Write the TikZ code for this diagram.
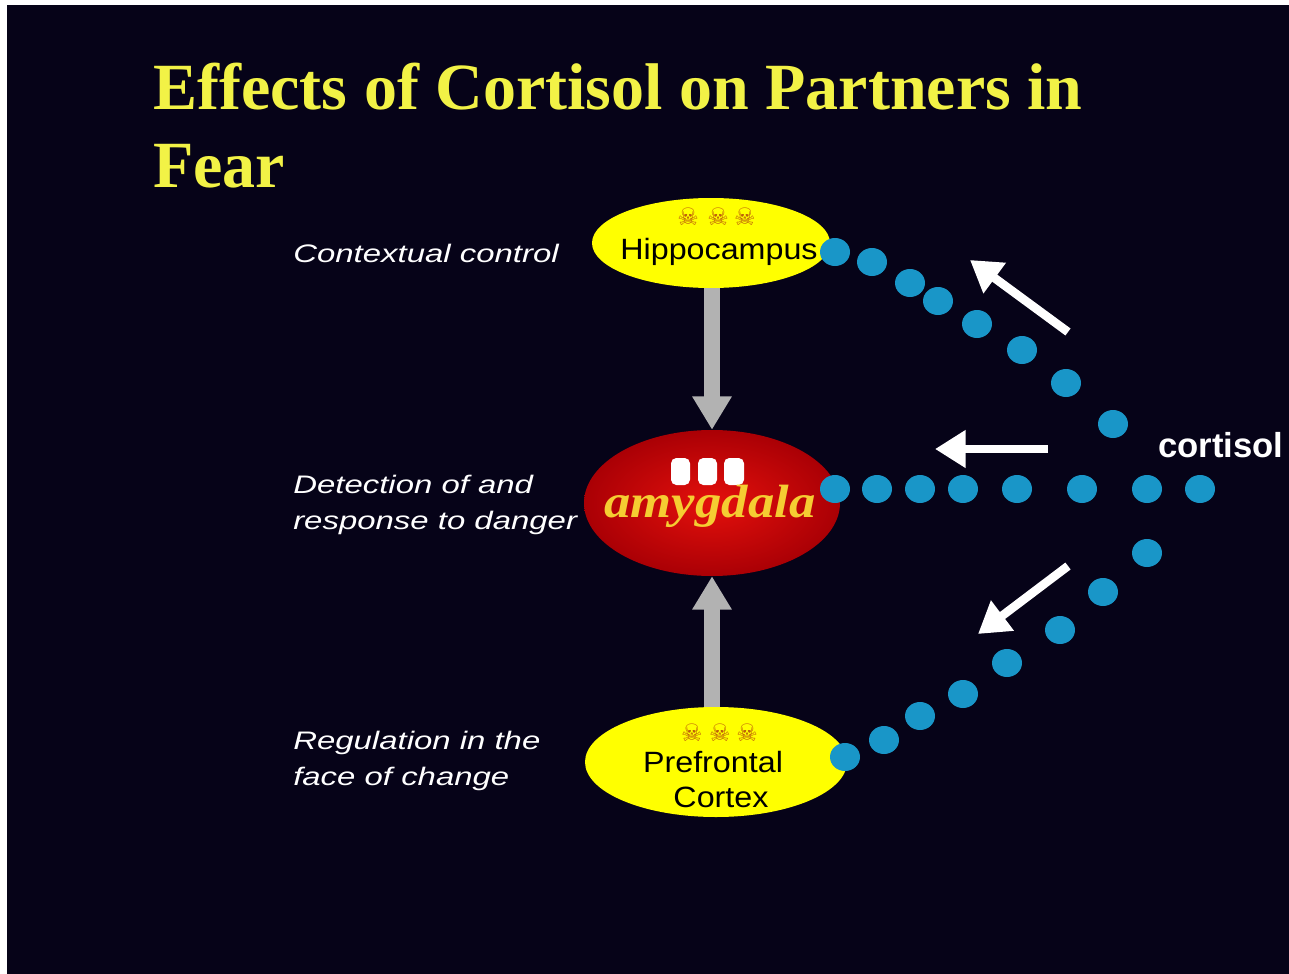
\documentclass[tikz,border=0pt]{standalone}
\usepackage{fontspec}
\setmainfont{Liberation Serif}
\newfontfamily\lsans{Liberation Sans}
\newfontfamily\dejavu{DejaVu Sans}
\usetikzlibrary{shapes.geometric,arrows.meta}
\definecolor{bgdark}{RGB}{6,3,24}
\definecolor{titleyellow}{RGB}{242,242,70}
\definecolor{nodeyellow}{RGB}{255,255,0}
\definecolor{dotblue}{RGB}{25,150,200}
\definecolor{amyred}{RGB}{228,16,12}
\definecolor{amydark}{RGB}{170,0,5}
\definecolor{amytext}{RGB}{245,205,50}
\definecolor{greyarrow}{RGB}{178,178,178}
\definecolor{skullcol}{RGB}{190,95,10}
\newcommand{\wideit}[1]{\scalebox{1.3}[1]{#1}}
\newcommand{\widereg}[1]{\scalebox{1.1}[1]{#1}}
\begin{document}
\begin{tikzpicture}[x=0.75pt,y=-0.75pt,
  region/.style={ellipse, fill=nodeyellow, inner sep=0pt},
  regiontext/.style={anchor=base, inner sep=0pt, text=black, font=\lsans\fontsize{22}{26}\selectfont},
  sidelabel/.style={anchor=base west, inner sep=0pt, text=white, font=\lsans\itshape\fontsize{19}{23}\selectfont},
  skull/.style={text=skullcol, inner sep=0pt, font=\dejavu\bfseries\fontsize{18}{18}\selectfont},
  bluedot/.style={fill=dotblue},
  greyarr/.style={draw=greyarrow, line width=12pt, -{Triangle[width=28pt,length=25pt]}},
  whitearr/.style={draw=white, line width=6.5pt, -{Triangle[width=27pt,length=23pt]}},
  whiteblock/.style={fill=white, rounded corners=4pt}
]
\useasboundingbox (0,0) rectangle (1289,974);
\fill[white] (0,0) rectangle (1289,974);
\fill[bgdark] (7,5) rectangle (1289,974);

% title
\node[anchor=base west, inner sep=0pt, text=titleyellow, font=\bfseries\fontsize{49.5}{52}\selectfont] (title1) at (153,109) {Effects of Cortisol on Partners in};
\node[anchor=base west, inner sep=0pt, text=titleyellow, font=\bfseries\fontsize{49.5}{52}\selectfont] (title2) at (153,187) {Fear};

% regions
\node[region, minimum width=178.5pt, minimum height=67.5pt] (hip) at (711,243) {};
\node[ellipse, inner sep=0pt, minimum width=192pt, minimum height=109.5pt, inner color=amyred, outer color=amydark] (amy) at (712,503) {};
\node[region, minimum width=196.5pt, minimum height=82.5pt] (pfc) at (716,762) {};

\node[regiontext] (hiptext) at (719,259) {\widereg{Hippocampus}};
\node[regiontext] (pfctext1) at (713,772) {\widereg{Prefrontal}};
\node[regiontext] (pfctext2) at (721,807) {\widereg{Cortex}};

\foreach \x/\n in {688/a,718/b,745/c}{\node[skull] (hs\n) at (\x,217) {☠};}
\foreach \x/\n in {692/a,720/b,747/c}{\node[skull] (ps\n) at (\x,733) {☠};}

\fill[whiteblock] (671,458) rectangle (690,485);
\fill[whiteblock] (698,458) rectangle (717,485);
\fill[whiteblock] (724,458) rectangle (744,485);
\node[anchor=base, inner sep=0pt, text=amytext, font=\bfseries\itshape\fontsize{35}{36}\selectfont] (amytext) at (710,517) {\scalebox{1.13}[1]{amygdala}};

% grey arrows
\draw[greyarr] (amy.north |- hip.south) -- (amy.north);
\draw[greyarr] (amy.south |- pfc.north) -- (amy.south);

% side labels
\node[sidelabel] (l1) at (293,262) {\wideit{Contextual control}};
\node[sidelabel] (l2) at (293,493) {\wideit{Detection of and}};
\node[sidelabel] (l3) at (293,529) {\wideit{response to danger}};
\node[sidelabel] (l4) at (293,749) {\wideit{Regulation in the}};
\node[sidelabel] (l5) at (293,785) {\wideit{face of change}};

% cortisol dots
\foreach \x/\y in {835/252,872/262,910/283,938/301,977/324,1022/350,1066/383,1113/424,
                   835/489,877/489,920/489,963/489,1017/489,1082/489,1147/489,1200/489,
                   1147/553,1103/592,1060/630,1007/663,963/694,920/716,884/740,845/757}
  \fill[bluedot] (\x,\y) ellipse [x radius=15, y radius=14];

\node[anchor=base west, inner sep=0pt, text=white, font=\lsans\bfseries\fontsize{26}{30}\selectfont] (cort) at (1158,457) {cortisol};

% white arrows
\coordinate (ua1) at (1068,332); \coordinate (ua2) at (970,260);
\coordinate (ma1) at (1048,449); \coordinate (ma2) at (935,449);
\coordinate (la1) at (1068,566); \coordinate (la2) at (978,634);
\draw[whitearr] (ua1) -- (ua2);
\draw[whitearr] (ma1) -- (ma2);
\draw[whitearr] (la1) -- (la2);
\end{tikzpicture}
\end{document}
